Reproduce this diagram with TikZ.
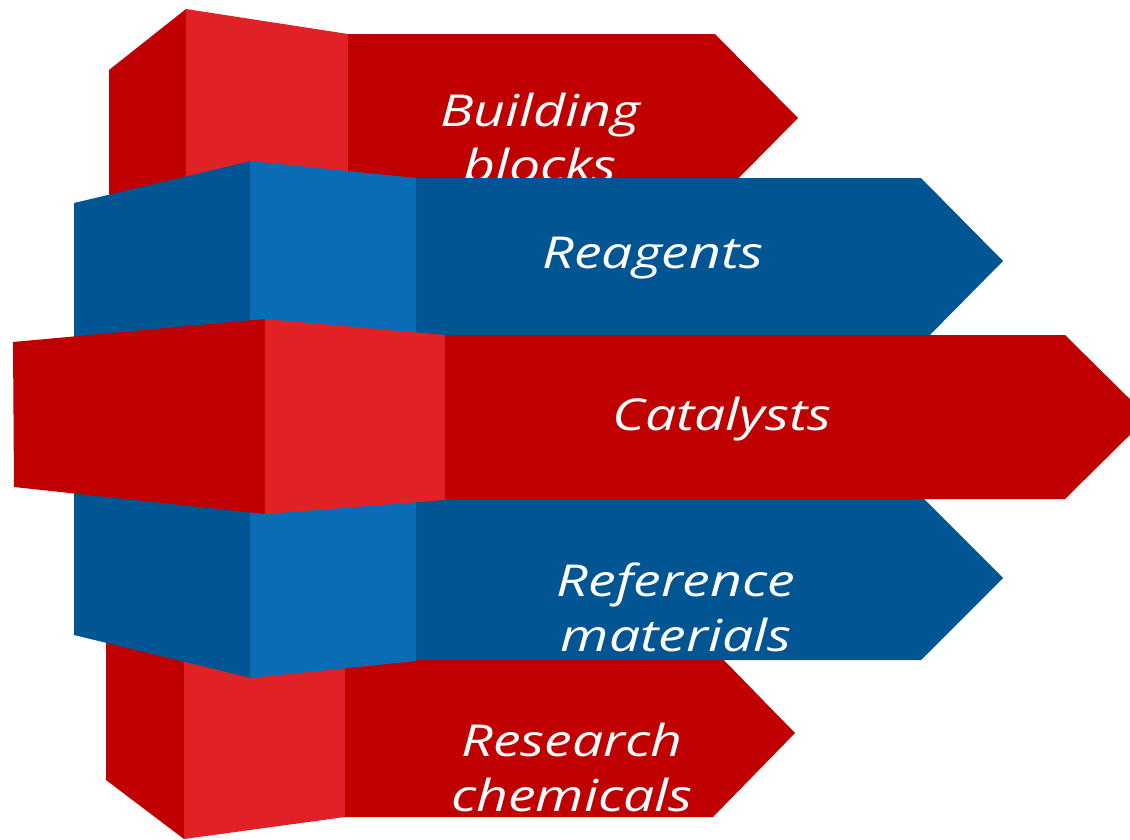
\documentclass[tikz,border=0pt]{standalone}
\usepackage{fontspec}
\newfontfamily\hand[FakeStretch=1.26]{Open Sans}
\definecolor{rdark}{RGB}{192,0,0}
\definecolor{rlight}{RGB}{224,33,37}
\definecolor{bdark}{RGB}{2,85,147}
\definecolor{blight}{RGB}{11,108,182}
\begin{document}
\begin{tikzpicture}[x=1pt,y=-1pt,
  lbl/.style={text=white,font=\hand\fontsize{44}{55}\selectfont\itshape,align=center,inner sep=0pt}]
\useasboundingbox (0,0) rectangle (1130,839);
\clip (0,0) rectangle (1130,839);
% top red block
\fill[rdark] (109,70) -- (186,9) -- (186,400) -- (109,400) -- cycle;
\fill[rlight] (186,9) -- (348,34) -- (348,400) -- (186,400) -- cycle;
\fill[rdark] (348,34) -- (715,34) -- (798,118) -- (715,202) -- (348,202) -- cycle;
\node[lbl] (bb) at (540,137) {Building\\blocks};
% bottom red block
\fill[rdark] (106,600) -- (184,600) -- (184,839) -- (106,780) -- cycle;
\fill[rlight] (184,600) -- (345,600) -- (345,817) -- (184,839) -- cycle;
\fill[rdark] (345,649) -- (713,649) -- (795,733) -- (713,817) -- (345,817) -- cycle;
\node[lbl] (rc) at (572,767) {Research\\chemicals};
% blue block
\fill[bdark] (74,203) -- (251,161) -- (251,678) -- (74,635) -- cycle;
\fill[blight] (250,161) -- (416,178) -- (416,661) -- (250,678) -- cycle;
\fill[bdark] (416,178) -- (921,178) -- (1003,261) -- (921,344) -- (416,344) -- cycle;
\fill[bdark] (416,496) -- (921,496) -- (1003,578) -- (921,660) -- (416,660) -- cycle;
\node[lbl,anchor=base] (rg) at (653,268) {Reagents};
\node[lbl] (rm) at (676,607) {Reference\\materials};
% middle red block
\fill[rdark] (13,342) -- (265,319) -- (265,514) -- (14,487) -- cycle;
\fill[rlight] (265,319) -- (445,335) -- (445,500) -- (265,514) -- cycle;
\fill[rdark] (445,335) -- (1065,335) -- (1148,417) -- (1065,499) -- (445,499) -- cycle;
\node[lbl,anchor=base] (ct) at (722,430) {Catalysts};
\end{tikzpicture}
\end{document}
